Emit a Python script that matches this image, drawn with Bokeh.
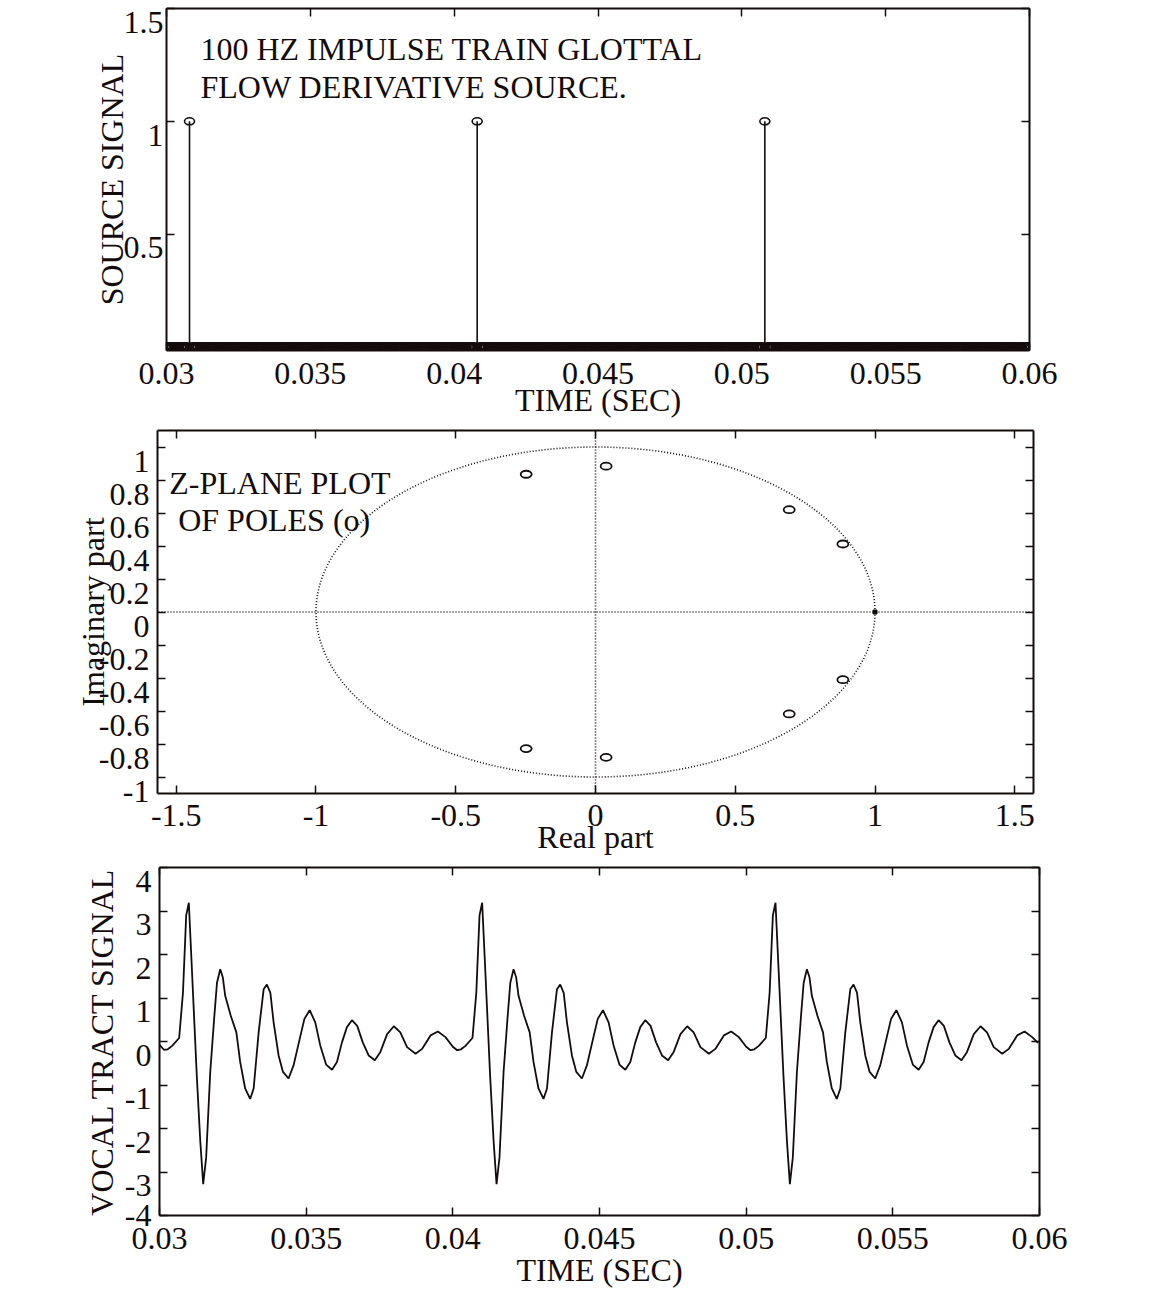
import numpy as np
from bokeh.plotting import figure
from bokeh.models import (LinearAxis, FixedTicker, CustomJSTickFormatter, Label,
                          Arrow, Range1d)
from bokeh.layouts import column
from bokeh.embed import file_html
from bokeh.resources import INLINE

FONT = "Liberation Serif"
FS = "32px"
INK = "#140c0c"

# ---------------- data ----------------
# top: impulse train (source)
impulse_times = [0.0308, 0.0408, 0.0508]
impulse_values = [1.0, 1.0, 1.0]
source_sample_times = np.round(np.arange(0.0300, 0.06005, 0.0001), 4)
is_impulse = np.isin(source_sample_times, impulse_times)
zero_sample_times = source_sample_times[~is_impulse]
zero_sample_values = np.zeros(len(zero_sample_times))

# middle: poles in the z-plane
pole_real = [0.038, 0.038, 0.693, 0.693, 0.885, 0.885, -0.248, -0.248]
pole_imag = [0.884, -0.881, 0.620, -0.618, 0.412, -0.410, 0.835, -0.828]
zero_real = [1.0]
zero_imag = [0.0]

# bottom: vocal tract output signal
vt_time = [
    0.03000, 0.03015, 0.03028, 0.03043, 0.03067, 0.03080, 0.03091, 0.03100, 0.03110, 0.03127,
    0.03139, 0.03149, 0.03159, 0.03173, 0.03187, 0.03196, 0.03207, 0.03216, 0.03224, 0.03243,
    0.03262, 0.03275, 0.03292, 0.03309, 0.03321, 0.03338, 0.03355, 0.03366, 0.03378, 0.03389,
    0.03406, 0.03421, 0.03440, 0.03457, 0.03478, 0.03494, 0.03512, 0.03531, 0.03548, 0.03568,
    0.03588, 0.03605, 0.03622, 0.03639, 0.03656, 0.03674, 0.03693, 0.03713, 0.03734, 0.03753,
    0.03776, 0.03799, 0.03821, 0.03844, 0.03873, 0.03895, 0.03924, 0.03949, 0.03975,
    0.04000, 0.04015, 0.04028, 0.04043, 0.04067, 0.04080, 0.04091, 0.04100, 0.04110, 0.04127,
    0.04139, 0.04149, 0.04159, 0.04173, 0.04187, 0.04196, 0.04207, 0.04216, 0.04224, 0.04243,
    0.04262, 0.04275, 0.04292, 0.04309, 0.04321, 0.04338, 0.04355, 0.04366, 0.04378, 0.04389,
    0.04406, 0.04421, 0.04440, 0.04457, 0.04478, 0.04494, 0.04512, 0.04531, 0.04548, 0.04568,
    0.04588, 0.04605, 0.04622, 0.04639, 0.04656, 0.04674, 0.04693, 0.04713, 0.04734, 0.04753,
    0.04776, 0.04799, 0.04821, 0.04844, 0.04873, 0.04895, 0.04924, 0.04949, 0.04975,
    0.05000, 0.05015, 0.05028, 0.05043, 0.05067, 0.05080, 0.05091, 0.05100, 0.05110, 0.05127,
    0.05139, 0.05149, 0.05159, 0.05173, 0.05187, 0.05196, 0.05207, 0.05216, 0.05224, 0.05243,
    0.05262, 0.05275, 0.05292, 0.05309, 0.05321, 0.05338, 0.05355, 0.05366, 0.05378, 0.05389,
    0.05406, 0.05421, 0.05440, 0.05457, 0.05478, 0.05494, 0.05512, 0.05531, 0.05548, 0.05568,
    0.05588, 0.05605, 0.05622, 0.05639, 0.05656, 0.05674, 0.05693, 0.05713, 0.05734, 0.05753,
    0.05776, 0.05799, 0.05821, 0.05844, 0.05873, 0.05895, 0.05924, 0.05949, 0.05975, 0.05995,
]
vt_value = [
    -0.08, -0.19, -0.18, -0.10, 0.08, 1.12, 2.90, 3.19, 1.73, -0.77,
    -2.29, -3.28, -2.67, -0.70, 0.59, 1.35, 1.66, 1.47, 1.05, 0.59,
    0.21, -0.47, -1.08, -1.32, -1.08, 0.21, 1.20, 1.31, 1.12, 0.44,
    -0.32, -0.70, -0.85, -0.55, 0.06, 0.52, 0.72, 0.44, -0.09, -0.53,
    -0.65, -0.47, -0.02, 0.33, 0.49, 0.36, -0.02, -0.32, -0.43, -0.24,
    0.17, 0.35, 0.21, -0.13, -0.28, -0.17, 0.14, 0.23, 0.10,
    -0.12, -0.20, -0.18, -0.10, 0.08, 1.12, 2.90, 3.19, 1.73, -0.77,
    -2.29, -3.28, -2.67, -0.70, 0.59, 1.35, 1.66, 1.47, 1.05, 0.59,
    0.21, -0.47, -1.08, -1.32, -1.08, 0.21, 1.20, 1.31, 1.12, 0.44,
    -0.32, -0.70, -0.85, -0.55, 0.06, 0.52, 0.72, 0.44, -0.09, -0.53,
    -0.65, -0.47, -0.02, 0.33, 0.49, 0.36, -0.02, -0.32, -0.43, -0.24,
    0.17, 0.35, 0.21, -0.13, -0.28, -0.17, 0.14, 0.23, 0.10,
    -0.12, -0.20, -0.18, -0.10, 0.08, 1.12, 2.90, 3.19, 1.73, -0.77,
    -2.29, -3.28, -2.67, -0.70, 0.59, 1.35, 1.66, 1.47, 1.05, 0.59,
    0.21, -0.47, -1.08, -1.32, -1.08, 0.21, 1.20, 1.31, 1.12, 0.44,
    -0.32, -0.70, -0.85, -0.55, 0.06, 0.52, 0.72, 0.44, -0.09, -0.53,
    -0.65, -0.47, -0.02, 0.33, 0.49, 0.36, -0.02, -0.32, -0.43, -0.24,
    0.17, 0.35, 0.21, -0.13, -0.28, -0.17, 0.14, 0.23, 0.10, -0.03,
]

time_ticks = [0.03, 0.035, 0.04, 0.045, 0.05, 0.055, 0.06]
source_ticks = [0.5, 1.0, 1.5]
real_ticks = [-1.5, -1.0, -0.5, 0.0, 0.5, 1.0, 1.5]
imag_ticks = [-1.0, -0.8, -0.6, -0.4, -0.2, 0.0, 0.2, 0.4, 0.6, 0.8, 1.0]
vt_ticks = [-4, -3, -2, -1, 0, 1, 2, 3, 4]


def fmt(decimals, shift=0.0):
    k = 10 ** decimals
    return CustomJSTickFormatter(code=(
        "var v = Math.round((tick + %r)*%d)/%d; if (Math.abs(v) < 1e-12) { v = 0; } "
        "return String(v);" % (shift, k, k)))


BLANK = "return '';"


def make_fig(height, xr, yr, left, right, top, bottom):
    p = figure(width=1152, height=height, x_range=xr, y_range=yr,
               output_backend="svg", toolbar_location=None,
               x_axis_location=None, y_axis_location=None,
               min_border_left=left, min_border_right=right,
               min_border_top=top, min_border_bottom=bottom)
    p.frame_align = False
    p.xgrid.visible = False
    p.ygrid.visible = False
    p.outline_line_color = None
    p.background_fill_color = "white"
    p.border_fill_color = "white"
    return p


def base_axis(ticks, formatter):
    ax = LinearAxis(ticker=FixedTicker(ticks=ticks), formatter=formatter)
    ax.axis_line_width = 2
    ax.axis_line_color = INK
    ax.major_tick_in = 8
    ax.major_tick_out = 0
    ax.major_tick_line_width = 1.5
    ax.major_tick_line_color = INK
    ax.minor_tick_in = 0
    ax.minor_tick_out = 0
    ax.major_label_text_font = FONT
    ax.major_label_text_color = INK
    ax.axis_label_text_font = FONT
    ax.axis_label_text_font_size = FS
    ax.axis_label_text_font_style = "normal"
    ax.axis_label_text_color = INK
    return ax


def add_axes(p, xticks, yticks, xdec, ydec, xlabel, ylabel, ylab_shift,
             x_lab_standoff, y_lab_standoff, x_title_standoff, y_title_standoff):
    # bottom axis: ticks, labels and title
    ax = base_axis(xticks, fmt(xdec))
    ax.major_label_text_font_size = FS
    ax.major_label_standoff = x_lab_standoff
    ax.axis_label = xlabel
    ax.axis_label_standoff = x_title_standoff
    p.add_layout(ax, "below")
    # top and right: ticks only
    for side, ticks in (("above", xticks), ("right", yticks)):
        ax = base_axis(ticks, CustomJSTickFormatter(code=BLANK))
        ax.major_label_text_font_size = "0px"
        ax.major_label_standoff = 0
        p.add_layout(ax, side)
    # left, inner: ticks only
    ax = base_axis(yticks, CustomJSTickFormatter(code=BLANK))
    ax.major_label_text_font_size = "0px"
    ax.major_label_standoff = 0
    p.add_layout(ax, "left")
    # left, outer: labels sitting just below their ticks (kept inside the
    # axis extent), and the title
    lo = p.y_range.start + 1e-3 * (p.y_range.end - p.y_range.start)
    label_pos = [max(v - ylab_shift, lo) for v in yticks]
    ax = base_axis(label_pos, fmt(ydec, ylab_shift))
    ax.axis_line_color = None
    ax.major_tick_line_color = None
    ax.major_tick_in = 0
    ax.major_label_text_font_size = FS
    ax.major_label_standoff = y_lab_standoff
    ax.axis_label = ylabel
    ax.axis_label_standoff = y_title_standoff
    p.add_layout(ax, "left")


def text_label(p, x, y, txt):
    p.add_layout(Label(x=x, y=y, text=txt, text_font=FONT, text_font_size=FS,
                       text_color=INK, text_baseline="alphabetic", text_align="left"))


# ---------------- top: source signal ----------------
p1 = make_fig(420, Range1d(0.03, 0.06), Range1d(-0.016, 1.5), 166, 123, 8, 67)
add_axes(p1, time_ticks, source_ticks, 3, 1, "TIME (SEC)", "SOURCE SIGNAL", 0.0615,
         12, 3, -5, -9)
p1.segment(x0=impulse_times, y0=0, x1=impulse_times, y1=impulse_values,
           line_color=INK, line_width=1.6)
p1.ellipse(x=zero_sample_times, y=zero_sample_values, width=10, height=7,
           width_units="screen", height_units="screen",
           fill_color=None, line_color=INK, line_width=2.6)
p1.ellipse(x=impulse_times, y=impulse_values, width=10, height=7,
           width_units="screen", height_units="screen",
           fill_color=None, line_color=INK, line_width=1.6)
text_label(p1, 0.03118, 1.322, "100 HZ IMPULSE TRAIN GLOTTAL")
text_label(p1, 0.03118, 1.152, "FLOW DERIVATIVE SOURCE.")

# ---------------- middle: z-plane ----------------
p2 = make_fig(440, Range1d(-1.567, 1.567), Range1d(-1.1, 1.1), 157, 119, 10, 67)
add_axes(p2, real_ticks, imag_ticks, 1, 1, "Real part", "Imaginary part", 0.085,
         11, 8, -10, -15)
theta = np.linspace(0, 2 * np.pi, 721)
p2.line(np.cos(theta), np.sin(theta), line_color=INK, line_width=1.6, line_dash="1 2")
p2.add_layout(Arrow(end=None, x_start=-2.1, y_start=0, x_end=1.96, y_end=0,
                    line_color=INK, line_width=1.6, line_dash="1 2"))
p2.add_layout(Arrow(end=None, x_start=0, y_start=1.33, x_end=0, y_end=-1.42,
                    line_color=INK, line_width=1.6, line_dash="1 2"))
p2.ellipse(x=pole_real, y=pole_imag, width=11, height=7,
           width_units="screen", height_units="screen",
           fill_color=None, line_color=INK, line_width=1.8)
p2.scatter(x=zero_real, y=zero_imag, marker="square", size=4,
           fill_color=INK, line_color=INK)
text_label(p2, -1.525, 0.78, "Z-PLANE PLOT")
text_label(p2, -1.493, 0.556, "OF POLES (o)")

# ---------------- bottom: vocal tract signal ----------------
p3 = make_fig(430, Range1d(0.03, 0.06), Range1d(-4, 4), 159, 113, 7, 72)
add_axes(p3, time_ticks, vt_ticks, 3, 0, "TIME (SEC)", "VOCAL TRACT SIGNAL", 0.32,
         12, 8, 0, 2)
p3.line(vt_time, vt_value, line_color=INK, line_width=1.8)

layout = column(p1, p2, p3, spacing=0)
open("out.html", "w").write(file_html(layout, INLINE))
